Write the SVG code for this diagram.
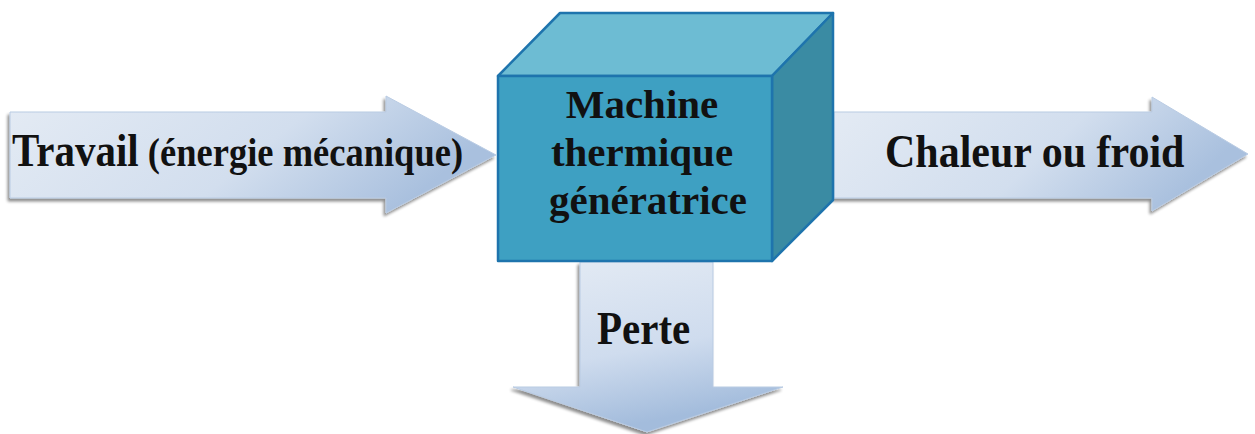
<svg xmlns="http://www.w3.org/2000/svg" width="1255" height="434" viewBox="0 0 1255 434">
<defs>
<linearGradient id="gh" x1="0" y1="0" x2="1" y2="0.3">
<stop offset="0" stop-color="#e4ebf4"/>
<stop offset="0.6" stop-color="#d2deee"/>
<stop offset="1" stop-color="#a9c0de"/>
</linearGradient>
<linearGradient id="gv" x1="0" y1="0" x2="0.3" y2="1">
<stop offset="0" stop-color="#e4ebf4"/>
<stop offset="0.6" stop-color="#cfdcee"/>
<stop offset="1" stop-color="#a3bcdc"/>
</linearGradient>
<filter id="sh" x="-5%" y="-5%" width="110%" height="120%">
<feGaussianBlur in="SourceAlpha" stdDeviation="1.5"/>
<feOffset dx="-2" dy="3" result="b"/>
<feComponentTransfer><feFuncA type="linear" slope="0.45"/></feComponentTransfer>
<feMerge><feMergeNode/><feMergeNode in="SourceGraphic"/></feMerge>
</filter>
</defs>
<style>
.t{font-family:"Liberation Serif","Times New Roman",serif;font-weight:bold;fill:#111;}
.arrow{stroke:#b9cbe3;stroke-width:1;}
.edge{stroke:#1e74ad;stroke-width:2.5;stroke-linejoin:round;}
</style>
<g id="connectors">
<g id="arrow-in">
<path class="arrow" filter="url(#sh)" fill="url(#gh)" d="M10,112 L386,112 L386,96 L496,155 L386,213 L386,198 L10,198 Z"/>
</g>
<g id="arrow-out">
<path class="arrow" filter="url(#sh)" fill="url(#gh)" d="M834,112 L1152,112 L1152,97 L1248,154 L1152,211 L1152,198 L834,198 Z"/>
</g>
<g id="arrow-loss">
<path class="arrow" filter="url(#sh)" fill="url(#gv)" d="M580,262 L713,262 L713,387 L783,387 L647,432 L513,387 L580,387 Z"/>
</g>
</g>
<g id="machine">
<polygon class="edge" fill="#6dbcd3" points="498,76 560,13 833,13 772,76"/>
<polygon class="edge" fill="#3a8ba3" points="772,76 833,13 833,200 772,261"/>
<rect class="edge" fill="#3ea0c2" x="498" y="76" width="274" height="185"/>
<text class="t" font-size="41" text-anchor="middle" x="642" y="118">Machine</text>
<text class="t" font-size="41" text-anchor="middle" x="642" y="166">thermique</text>
<text class="t" font-size="41" text-anchor="middle" x="648" y="214">génératrice</text>
</g>
<g id="label-in">
<text class="t" x="12" y="166" transform="translate(0,-19.92) scale(1,1.12)"><tspan font-size="41">Travail</tspan><tspan font-size="36.5"> (énergie mécanique)</tspan></text>
</g>
<g id="label-out">
<text class="t" font-size="42" x="885" y="167" transform="translate(0,-20.04) scale(1,1.12)">Chaleur ou froid</text>
</g>
<g id="label-loss">
<text class="t" font-size="41" x="597" y="344" transform="translate(0,-41.28) scale(1,1.12)">Perte</text>
</g>
</svg>
